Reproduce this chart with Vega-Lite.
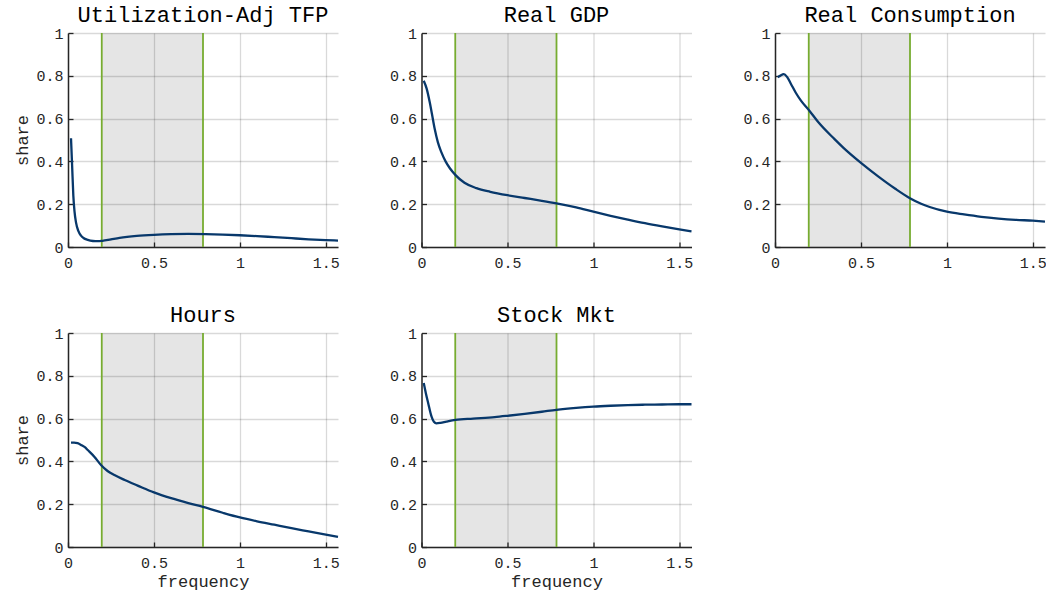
{
  "$schema": "https://vega.github.io/schema/vega-lite/v6.json",
  "padding": {"left": 13, "top": 4, "right": 2, "bottom": 2},
  "background": "white",
  "datasets": {
    "band": [{"freq": 0.19635, "freq2": 0.7854}],
    "edges": [{"freq": 0.19635}, {"freq": 0.7854}],
    "curves": [
      {"panel": "TFP", "freq": 0.0175, "share": 0.508},
      {"panel": "TFP", "freq": 0.024, "share": 0.38},
      {"panel": "TFP", "freq": 0.031, "share": 0.24},
      {"panel": "TFP", "freq": 0.038, "share": 0.165},
      {"panel": "TFP", "freq": 0.0465, "share": 0.115},
      {"panel": "TFP", "freq": 0.06, "share": 0.075},
      {"panel": "TFP", "freq": 0.0756, "share": 0.053},
      {"panel": "TFP", "freq": 0.09, "share": 0.042},
      {"panel": "TFP", "freq": 0.115, "share": 0.033},
      {"panel": "TFP", "freq": 0.145, "share": 0.028},
      {"panel": "TFP", "freq": 0.173, "share": 0.027},
      {"panel": "TFP", "freq": 0.2, "share": 0.029},
      {"panel": "TFP", "freq": 0.25, "share": 0.036},
      {"panel": "TFP", "freq": 0.3, "share": 0.043},
      {"panel": "TFP", "freq": 0.4, "share": 0.052},
      {"panel": "TFP", "freq": 0.5, "share": 0.057},
      {"panel": "TFP", "freq": 0.6, "share": 0.06},
      {"panel": "TFP", "freq": 0.7, "share": 0.061},
      {"panel": "TFP", "freq": 0.8, "share": 0.06},
      {"panel": "TFP", "freq": 0.9, "share": 0.058},
      {"panel": "TFP", "freq": 1.0, "share": 0.055},
      {"panel": "TFP", "freq": 1.1, "share": 0.051},
      {"panel": "TFP", "freq": 1.2, "share": 0.046},
      {"panel": "TFP", "freq": 1.3, "share": 0.041},
      {"panel": "TFP", "freq": 1.4, "share": 0.036},
      {"panel": "TFP", "freq": 1.5, "share": 0.032},
      {"panel": "TFP", "freq": 1.5708, "share": 0.03},

      {"panel": "GDP", "freq": 0.013, "share": 0.777},
      {"panel": "GDP", "freq": 0.03, "share": 0.74},
      {"panel": "GDP", "freq": 0.048, "share": 0.676},
      {"panel": "GDP", "freq": 0.06, "share": 0.625},
      {"panel": "GDP", "freq": 0.077, "share": 0.551},
      {"panel": "GDP", "freq": 0.095, "share": 0.49},
      {"panel": "GDP", "freq": 0.116, "share": 0.442},
      {"panel": "GDP", "freq": 0.14, "share": 0.4},
      {"panel": "GDP", "freq": 0.165, "share": 0.368},
      {"panel": "GDP", "freq": 0.198, "share": 0.336},
      {"panel": "GDP", "freq": 0.25, "share": 0.3},
      {"panel": "GDP", "freq": 0.32, "share": 0.275},
      {"panel": "GDP", "freq": 0.4, "share": 0.258},
      {"panel": "GDP", "freq": 0.5, "share": 0.242},
      {"panel": "GDP", "freq": 0.6, "share": 0.229},
      {"panel": "GDP", "freq": 0.7, "share": 0.216},
      {"panel": "GDP", "freq": 0.785, "share": 0.204},
      {"panel": "GDP", "freq": 0.9, "share": 0.185},
      {"panel": "GDP", "freq": 1.0, "share": 0.165},
      {"panel": "GDP", "freq": 1.1, "share": 0.146},
      {"panel": "GDP", "freq": 1.2, "share": 0.128},
      {"panel": "GDP", "freq": 1.3, "share": 0.111},
      {"panel": "GDP", "freq": 1.4, "share": 0.096},
      {"panel": "GDP", "freq": 1.5, "share": 0.082},
      {"panel": "GDP", "freq": 1.5708, "share": 0.073},

      {"panel": "CONS", "freq": 0.016, "share": 0.793},
      {"panel": "CONS", "freq": 0.03, "share": 0.8},
      {"panel": "CONS", "freq": 0.051, "share": 0.808},
      {"panel": "CONS", "freq": 0.07, "share": 0.795},
      {"panel": "CONS", "freq": 0.093, "share": 0.762},
      {"panel": "CONS", "freq": 0.12, "share": 0.722},
      {"panel": "CONS", "freq": 0.151, "share": 0.684},
      {"panel": "CONS", "freq": 0.2, "share": 0.637},
      {"panel": "CONS", "freq": 0.25, "share": 0.585},
      {"panel": "CONS", "freq": 0.345, "share": 0.505},
      {"panel": "CONS", "freq": 0.4, "share": 0.462},
      {"panel": "CONS", "freq": 0.5, "share": 0.393},
      {"panel": "CONS", "freq": 0.6, "share": 0.33},
      {"panel": "CONS", "freq": 0.7, "share": 0.272},
      {"panel": "CONS", "freq": 0.785, "share": 0.228},
      {"panel": "CONS", "freq": 0.85, "share": 0.202},
      {"panel": "CONS", "freq": 0.9, "share": 0.187},
      {"panel": "CONS", "freq": 1.0, "share": 0.165},
      {"panel": "CONS", "freq": 1.1, "share": 0.152},
      {"panel": "CONS", "freq": 1.2, "share": 0.141},
      {"panel": "CONS", "freq": 1.3, "share": 0.133},
      {"panel": "CONS", "freq": 1.4, "share": 0.127},
      {"panel": "CONS", "freq": 1.5, "share": 0.123},
      {"panel": "CONS", "freq": 1.5708, "share": 0.119},

      {"panel": "HOURS", "freq": 0.0175, "share": 0.4875},
      {"panel": "HOURS", "freq": 0.035, "share": 0.488},
      {"panel": "HOURS", "freq": 0.056, "share": 0.485},
      {"panel": "HOURS", "freq": 0.08, "share": 0.475},
      {"panel": "HOURS", "freq": 0.1, "share": 0.465},
      {"panel": "HOURS", "freq": 0.115, "share": 0.453},
      {"panel": "HOURS", "freq": 0.153, "share": 0.422},
      {"panel": "HOURS", "freq": 0.192, "share": 0.383},
      {"panel": "HOURS", "freq": 0.23, "share": 0.355},
      {"panel": "HOURS", "freq": 0.27, "share": 0.336},
      {"panel": "HOURS", "freq": 0.33, "share": 0.313},
      {"panel": "HOURS", "freq": 0.405, "share": 0.287},
      {"panel": "HOURS", "freq": 0.5, "share": 0.255},
      {"panel": "HOURS", "freq": 0.6, "share": 0.228},
      {"panel": "HOURS", "freq": 0.7, "share": 0.205},
      {"panel": "HOURS", "freq": 0.785, "share": 0.1875},
      {"panel": "HOURS", "freq": 0.9, "share": 0.16},
      {"panel": "HOURS", "freq": 1.0, "share": 0.138},
      {"panel": "HOURS", "freq": 1.1, "share": 0.12},
      {"panel": "HOURS", "freq": 1.2, "share": 0.104},
      {"panel": "HOURS", "freq": 1.3, "share": 0.088},
      {"panel": "HOURS", "freq": 1.4, "share": 0.073},
      {"panel": "HOURS", "freq": 1.5, "share": 0.058},
      {"panel": "HOURS", "freq": 1.5708, "share": 0.047},

      {"panel": "STOCK", "freq": 0.013, "share": 0.766},
      {"panel": "STOCK", "freq": 0.025, "share": 0.72},
      {"panel": "STOCK", "freq": 0.039, "share": 0.672},
      {"panel": "STOCK", "freq": 0.058, "share": 0.61},
      {"panel": "STOCK", "freq": 0.072, "share": 0.585},
      {"panel": "STOCK", "freq": 0.087, "share": 0.578},
      {"panel": "STOCK", "freq": 0.11, "share": 0.58},
      {"panel": "STOCK", "freq": 0.145, "share": 0.586},
      {"panel": "STOCK", "freq": 0.198, "share": 0.594},
      {"panel": "STOCK", "freq": 0.3, "share": 0.6},
      {"panel": "STOCK", "freq": 0.426, "share": 0.607},
      {"panel": "STOCK", "freq": 0.5, "share": 0.613},
      {"panel": "STOCK", "freq": 0.6, "share": 0.622},
      {"panel": "STOCK", "freq": 0.7, "share": 0.632},
      {"panel": "STOCK", "freq": 0.785, "share": 0.641},
      {"panel": "STOCK", "freq": 0.9, "share": 0.65},
      {"panel": "STOCK", "freq": 1.0, "share": 0.656},
      {"panel": "STOCK", "freq": 1.1, "share": 0.66},
      {"panel": "STOCK", "freq": 1.2, "share": 0.663},
      {"panel": "STOCK", "freq": 1.3, "share": 0.665},
      {"panel": "STOCK", "freq": 1.4, "share": 0.666},
      {"panel": "STOCK", "freq": 1.5, "share": 0.667},
      {"panel": "STOCK", "freq": 1.5708, "share": 0.667}
    ]
  },
  "columns": 3,
  "spacing": {"row": 86, "column": 83.5},
  "bounds": "flush",
  "concat": [
    {
      "title": "Utilization-Adj TFP",
      "width": 270, "height": 214,
      "encoding": {"x": {"field": "freq", "type": "quantitative", "scale": {"domain": [0, 1.5708], "nice": false, "zero": false}, "axis": {"title": null, "values": [0, 0.5, 1, 1.5], "labelExpr": "'' + datum.value"}}},
      "layer": [
        {"data": {"name": "band"}, "mark": {"type": "rect", "fill": "#000000", "opacity": 0.1}, "encoding": {"x2": {"field": "freq2"}}},
        {"data": {"name": "edges"}, "mark": {"type": "rule", "color": "#77ac30", "strokeWidth": 1.8}, "encoding": {}},
        {"data": {"name": "curves"}, "transform": [{"filter": "datum.panel == 'TFP'"}], "mark": {"type": "line", "color": "#08386b", "strokeWidth": 2.3, "interpolate": "monotone"},
         "encoding": {"y": {"field": "share", "type": "quantitative", "scale": {"domain": [0, 1], "nice": false}, "axis": {"title": "share", "values": [0, 0.2, 0.4, 0.6, 0.8, 1], "labelExpr": "'' + datum.value"}}}}
      ]
    },
    {
      "title": "Real GDP",
      "width": 270, "height": 214,
      "encoding": {"x": {"field": "freq", "type": "quantitative", "scale": {"domain": [0, 1.5708], "nice": false, "zero": false}, "axis": {"title": null, "values": [0, 0.5, 1, 1.5], "labelExpr": "'' + datum.value"}}},
      "layer": [
        {"data": {"name": "band"}, "mark": {"type": "rect", "fill": "#000000", "opacity": 0.1}, "encoding": {"x2": {"field": "freq2"}}},
        {"data": {"name": "edges"}, "mark": {"type": "rule", "color": "#77ac30", "strokeWidth": 1.8}, "encoding": {}},
        {"data": {"name": "curves"}, "transform": [{"filter": "datum.panel == 'GDP'"}], "mark": {"type": "line", "color": "#08386b", "strokeWidth": 2.3, "interpolate": "monotone"},
         "encoding": {"y": {"field": "share", "type": "quantitative", "scale": {"domain": [0, 1], "nice": false}, "axis": {"title": null, "values": [0, 0.2, 0.4, 0.6, 0.8, 1], "labelExpr": "'' + datum.value"}}}}
      ]
    },
    {
      "title": "Real Consumption",
      "width": 270, "height": 214,
      "encoding": {"x": {"field": "freq", "type": "quantitative", "scale": {"domain": [0, 1.5708], "nice": false, "zero": false}, "axis": {"title": null, "values": [0, 0.5, 1, 1.5], "labelExpr": "'' + datum.value"}}},
      "layer": [
        {"data": {"name": "band"}, "mark": {"type": "rect", "fill": "#000000", "opacity": 0.1}, "encoding": {"x2": {"field": "freq2"}}},
        {"data": {"name": "edges"}, "mark": {"type": "rule", "color": "#77ac30", "strokeWidth": 1.8}, "encoding": {}},
        {"data": {"name": "curves"}, "transform": [{"filter": "datum.panel == 'CONS'"}], "mark": {"type": "line", "color": "#08386b", "strokeWidth": 2.3, "interpolate": "monotone"},
         "encoding": {"y": {"field": "share", "type": "quantitative", "scale": {"domain": [0, 1], "nice": false}, "axis": {"title": null, "values": [0, 0.2, 0.4, 0.6, 0.8, 1], "labelExpr": "'' + datum.value"}}}}
      ]
    },
    {
      "title": "Hours",
      "width": 270, "height": 214,
      "encoding": {"x": {"field": "freq", "type": "quantitative", "scale": {"domain": [0, 1.5708], "nice": false, "zero": false}, "axis": {"title": "frequency", "values": [0, 0.5, 1, 1.5], "labelExpr": "'' + datum.value"}}},
      "layer": [
        {"data": {"name": "band"}, "mark": {"type": "rect", "fill": "#000000", "opacity": 0.1}, "encoding": {"x2": {"field": "freq2"}}},
        {"data": {"name": "edges"}, "mark": {"type": "rule", "color": "#77ac30", "strokeWidth": 1.8}, "encoding": {}},
        {"data": {"name": "curves"}, "transform": [{"filter": "datum.panel == 'HOURS'"}], "mark": {"type": "line", "color": "#08386b", "strokeWidth": 2.3, "interpolate": "monotone"},
         "encoding": {"y": {"field": "share", "type": "quantitative", "scale": {"domain": [0, 1], "nice": false}, "axis": {"title": "share", "values": [0, 0.2, 0.4, 0.6, 0.8, 1], "labelExpr": "'' + datum.value"}}}}
      ]
    },
    {
      "title": "Stock Mkt",
      "width": 270, "height": 214,
      "encoding": {"x": {"field": "freq", "type": "quantitative", "scale": {"domain": [0, 1.5708], "nice": false, "zero": false}, "axis": {"title": "frequency", "values": [0, 0.5, 1, 1.5], "labelExpr": "'' + datum.value"}}},
      "layer": [
        {"data": {"name": "band"}, "mark": {"type": "rect", "fill": "#000000", "opacity": 0.1}, "encoding": {"x2": {"field": "freq2"}}},
        {"data": {"name": "edges"}, "mark": {"type": "rule", "color": "#77ac30", "strokeWidth": 1.8}, "encoding": {}},
        {"data": {"name": "curves"}, "transform": [{"filter": "datum.panel == 'STOCK'"}], "mark": {"type": "line", "color": "#08386b", "strokeWidth": 2.3, "interpolate": "monotone"},
         "encoding": {"y": {"field": "share", "type": "quantitative", "scale": {"domain": [0, 1], "nice": false}, "axis": {"title": null, "values": [0, 0.2, 0.4, 0.6, 0.8, 1], "labelExpr": "'' + datum.value"}}}}
      ]
    }
  ],
  "config": {
    "view": {"stroke": null},
    "font": "Liberation Mono",
    "axis": {
      "domainColor": "#262626", "domainWidth": 1.5,
      "tickColor": "#262626", "tickWidth": 1.3, "tickSize": -5,
      "gridColor": "#000000", "gridOpacity": 0.15, "gridWidth": 1.3,
      "labelFont": "Liberation Mono", "labelFontSize": 15, "labelColor": "#262626", "labelPadding": 10, "labelFlush": false,
      "titleFont": "Liberation Mono", "titleFontSize": 17, "titleFontWeight": "normal", "titleColor": "#262626"
    },
    "axisY": {"titlePadding": 4},
    "axisX": {"titlePadding": 3, "labelPadding": 13},
    "title": {"font": "Liberation Mono", "fontSize": 22, "fontWeight": "normal", "color": "#000000", "offset": -1}
  }
}
